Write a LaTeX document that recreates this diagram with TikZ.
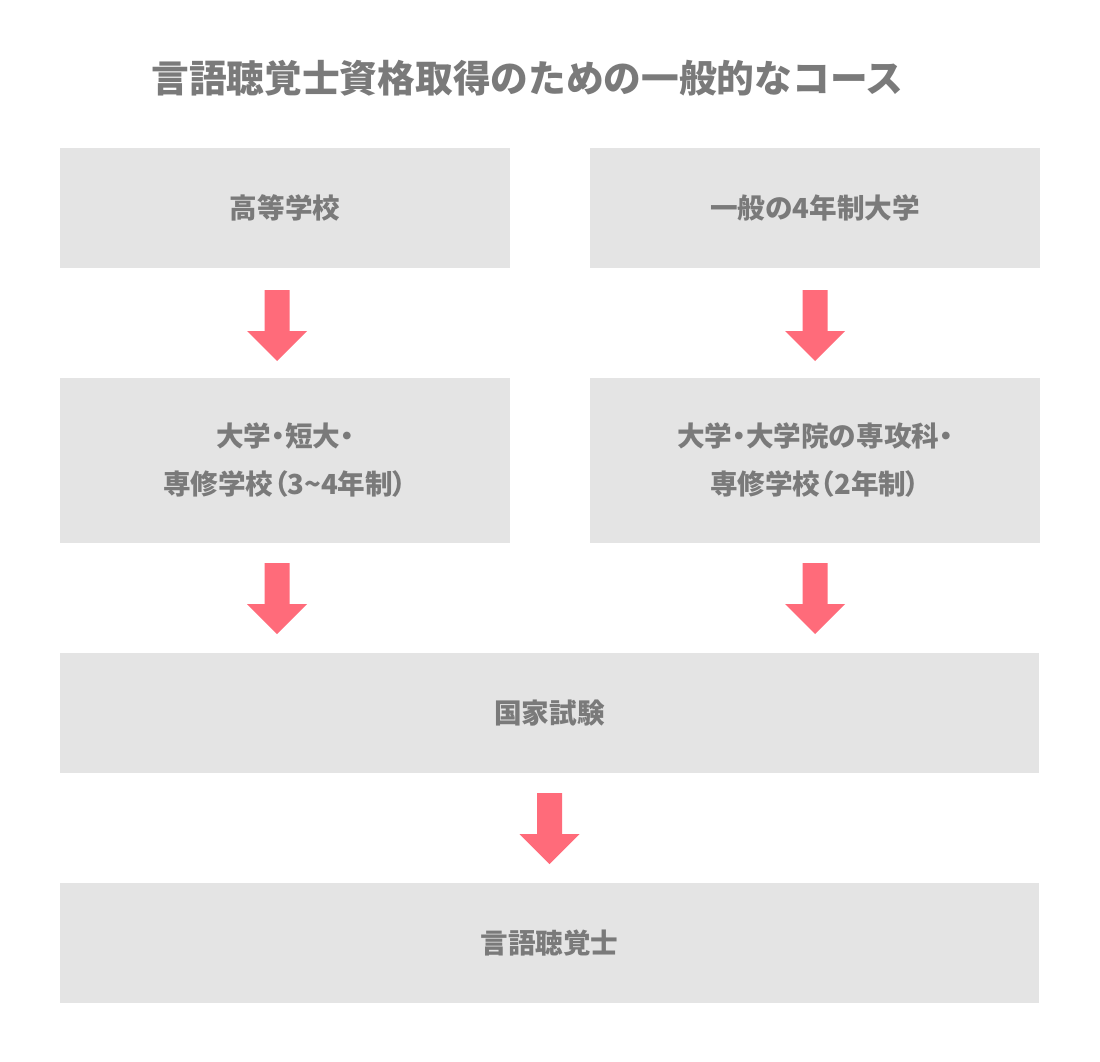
\documentclass[tikz,border=0pt]{standalone}
\usepackage{fontspec}
\usepackage{xcolor}
\usepackage{tikz}
\usetikzlibrary{calc}
\newfontfamily\jpfont{Noto Sans CJK JP}
\newfontfamily\jpprop[RawFeature=+palt]{Noto Sans CJK JP}
\newcommand\pp[1]{{\jpprop\bfseries #1}}
\definecolor{grisboite}{RGB}{228, 228, 228}
\definecolor{gristexte}{RGB}{122, 122, 122}
\definecolor{rosefleche}{RGB}{255, 107, 122}

\tikzset{
  boite/.style={fill=grisboite, inner sep=0pt, align=center,
        text=gristexte, font=\jpfont\bfseries\fontsize{27.6}{48}\selectfont},
  titre/.style={text=gristexte, inner sep=0pt,
        font=\jpfont\bfseries\fontsize{37.7}{40}\selectfont},
  fleche/.pic={
    \fill[rosefleche] (-12.5,-35) -- (12.5,-35) -- (12.5,6) -- (30,6)
      -- (0,36) -- (-30,6) -- (-12.5,6) -- cycle;
  }
}

\begin{document}
\begin{tikzpicture}[x=1pt, y=-1pt]
  \useasboundingbox[fill=white] (0,0) rectangle (1100,1062);

  \node[titre] (titre) at (527.5,78) {言語聴覚士資格取得のための一般的なコース};

  % premiere etape
  \node[boite, minimum width=450pt, minimum height=120pt] (lycee) at (285,208) {高等学校};
  \node[boite, minimum width=450pt, minimum height=120pt] (univ) at (815,208) {一般の4年制大学};

  % formation specialisee
  \node[boite, minimum width=450pt, minimum height=165pt] (senmon) at (285,460.5)
    {大学\pp{・}短大\pp{・}\\専修学校\pp{（}3\textasciitilde 4年制\pp{）}};
  \node[boite, minimum width=450pt, minimum height=165pt] (master) at (815,460.5)
    {大学\pp{・}大学院の専攻科\pp{・}\\専修学校\pp{（}2年制\pp{）}};

  % examen et diplome
  \node[boite, minimum width=979pt, minimum height=120pt] (examen) at (549.5,713) {国家試験};
  \node[boite, minimum width=979pt, minimum height=120pt] (diplome) at (549.5,943) {言語聴覚士};

  % fleches
  \pic[xshift=-8pt, yshift=-2pt] at ($(lycee.south)!0.5!(senmon.north)$) {fleche};
  \pic[yshift=-2pt] at ($(univ.south)!0.5!(master.north)$) {fleche};
  \pic[xshift=-8pt] at ($(senmon.south)!0.5!(senmon.south |- examen.north)$) {fleche};
  \pic at ($(master.south)!0.5!(master.south |- examen.north)$) {fleche};
  \pic at ($(examen.south)!0.5!(diplome.north)$) {fleche};
\end{tikzpicture}
\end{document}
